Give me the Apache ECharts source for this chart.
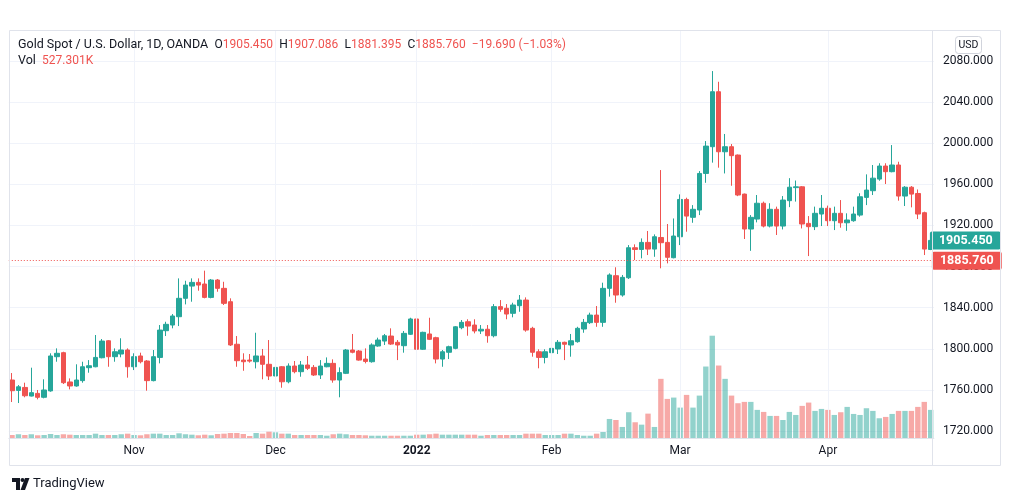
<!DOCTYPE html>
<html>
<head>
<meta charset="utf-8">
<script src="https://cdn.jsdelivr.net/npm/echarts@6/dist/echarts.min.js"></script>
<style>
html,body{margin:0;padding:0;background:#fff;}
#chart{width:1012px;height:501px;}
</style>
</head>
<body>
<div id="chart"></div>
<script>
// ---- data ----
const dates = [
'2021-10-05','2021-10-06','2021-10-07','2021-10-08','2021-10-11','2021-10-12','2021-10-13','2021-10-14','2021-10-15','2021-10-18','2021-10-19','2021-10-20','2021-10-21','2021-10-22','2021-10-25','2021-10-26','2021-10-27','2021-10-28','2021-10-29',
'2021-11-01','2021-11-02','2021-11-03','2021-11-04','2021-11-05','2021-11-08','2021-11-09','2021-11-10','2021-11-11','2021-11-12','2021-11-15','2021-11-16','2021-11-17','2021-11-18','2021-11-19','2021-11-22','2021-11-23','2021-11-24','2021-11-25','2021-11-26','2021-11-29','2021-11-30',
'2021-12-01','2021-12-02','2021-12-03','2021-12-06','2021-12-07','2021-12-08','2021-12-09','2021-12-10','2021-12-13','2021-12-14','2021-12-15','2021-12-16','2021-12-17','2021-12-20','2021-12-21','2021-12-22','2021-12-23','2021-12-27','2021-12-28','2021-12-29','2021-12-30','2021-12-31',
'2022-01-03','2022-01-04','2022-01-05','2022-01-06','2022-01-07','2022-01-10','2022-01-11','2022-01-12','2022-01-13','2022-01-14','2022-01-17','2022-01-18','2022-01-19','2022-01-20','2022-01-21','2022-01-24','2022-01-25','2022-01-26','2022-01-27','2022-01-28','2022-01-31',
'2022-02-01','2022-02-02','2022-02-03','2022-02-04','2022-02-07','2022-02-08','2022-02-09','2022-02-10','2022-02-11','2022-02-14','2022-02-15','2022-02-16','2022-02-17','2022-02-18','2022-02-21','2022-02-22','2022-02-23','2022-02-24','2022-02-25','2022-02-28',
'2022-03-01','2022-03-02','2022-03-03','2022-03-04','2022-03-07','2022-03-08','2022-03-09','2022-03-10','2022-03-11','2022-03-14','2022-03-15','2022-03-16','2022-03-17','2022-03-18','2022-03-21','2022-03-22','2022-03-23','2022-03-24','2022-03-25','2022-03-28','2022-03-29','2022-03-30','2022-03-31',
'2022-04-01','2022-04-04','2022-04-05','2022-04-06','2022-04-07','2022-04-08','2022-04-11','2022-04-12','2022-04-13','2022-04-14','2022-04-15','2022-04-18','2022-04-19','2022-04-20','2022-04-21','2022-04-22','2022-04-25'
];

const opens = [
1769.6,1759.5,1762.4,1754.0,1756.6,1752.8,1759.0,1792.3,1796.2,1767.7,1763.8,1769.0,1781.6,1782.5,1791.3,1807.8,1792.3,1794.9,1798.8,
1782.5,1793.0,1788.1,1769.0,1791.6,1817.6,1823.1,1831.2,1849.1,1861.0,1864.6,1863.0,1850.0,1866.9,1858.8,1845.8,1804.4,1789.0,1789.0,1787.4,1793.0,1784.9,
1773.5,1782.5,1767.9,1783.2,1777.7,1784.2,1781.9,1774.5,1782.5,1785.8,1769.6,1776.1,1798.8,1797.8,1790.0,1787.4,1802.7,1807.5,1812.4,1806.3,1803.0,1814.1,
1829.0,1799.5,1814.4,1810.8,1790.0,1796.6,1800.4,1820.5,1826.3,1823.1,1817.3,1819.0,1812.7,1841.0,1839.4,1834.5,1841.9,1847.4,1819.9,1797.1,1791.6,
1796.2,1799.8,1806.3,1803.7,1806.9,1819.2,1825.4,1832.8,1825.7,1858.8,1871.1,1852.3,1869.1,1898.3,1896.6,1903.5,1897.0,1908.3,1903.5,1888.6,
1909.0,1945.3,1927.9,1935.0,1970.6,1996.6,2050.1,1991.7,1996.6,1988.5,1950.5,1916.5,1926.2,1941.6,1919.4,1935.7,1919.4,1944.1,1956.8,1957.6,1922.0,1918.8,1931.1,
1936.7,1924.6,1931.8,1922.6,1924.6,1930.1,1947.3,1953.8,1965.1,1977.8,1972.3,1978.8,1948.6,1957.2,1951.1,1932.4,1896.6
];
const closes = [
1759.2,1763.0,1754.3,1757.3,1752.8,1759.9,1793.0,1795.6,1767.0,1763.8,1769.6,1782.5,1783.5,1791.6,1807.5,1792.3,1797.1,1798.8,1782.5,
1792.3,1787.4,1769.0,1792.3,1818.2,1823.8,1831.9,1849.1,1862.0,1864.6,1862.0,1850.0,1866.9,1858.8,1844.2,1803.7,1788.4,1787.4,1788.0,1793.0,1784.9,1773.5,
1781.9,1767.9,1783.2,1777.7,1784.2,1781.0,1774.5,1783.2,1785.8,1769.6,1776.8,1798.8,1796.6,1789.0,1787.7,1803.7,1808.5,1812.7,1804.6,1803.7,1815.0,1829.0,
1799.5,1816.0,1809.2,1790.0,1797.1,1802.0,1821.4,1825.7,1822.1,1817.3,1819.0,1812.7,1841.0,1838.4,1833.8,1842.6,1847.4,1818.2,1796.6,1791.6,1797.1,
1800.4,1806.3,1804.4,1807.8,1819.9,1825.7,1832.8,1825.7,1858.8,1871.8,1852.3,1869.5,1898.3,1896.6,1903.5,1897.0,1909.0,1903.2,1889.0,1909.7,
1945.3,1929.1,1935.7,1970.6,1997.2,2050.1,1991.7,1996.6,1987.9,1949.6,1916.5,1927.9,1941.6,1919.4,1935.7,1919.4,1944.7,1957.2,1957.6,1921.4,1918.8,1931.8,1936.7,
1924.6,1931.8,1922.6,1925.3,1931.1,1947.9,1954.4,1966.0,1977.8,1972.3,1978.8,1948.6,1957.2,1950.5,1931.1,1897.0,1905.45
];
const lows = [
1748.2,1747.2,1752.8,1753.6,1750.8,1751.8,1758.2,1787.4,1765.7,1760.5,1763.1,1767.0,1776.7,1782.0,1790.7,1782.5,1787.4,1791.7,1771.9,
1779.3,1785.8,1759.2,1768.3,1785.8,1812.4,1819.9,1822.1,1843.2,1845.8,1856.5,1849.1,1849.1,1855.5,1842.6,1802.7,1782.5,1778.6,1786.5,1780.9,1770.3,1769.6,
1771.2,1762.1,1766.4,1776.1,1772.8,1779.3,1773.5,1770.6,1782.0,1767.0,1752.8,1775.4,1795.6,1788.4,1785.8,1786.5,1802.0,1803.7,1803.7,1789.0,1796.2,1813.4,
1797.8,1798.8,1808.5,1785.8,1782.5,1790.0,1799.5,1819.0,1812.7,1815.0,1814.4,1805.9,1811.1,1836.0,1828.7,1830.6,1836.0,1816.6,1792.3,1781.0,1785.8,
1795.6,1794.9,1789.0,1792.3,1805.9,1815.6,1824.1,1821.4,1821.4,1850.7,1844.8,1850.7,1867.9,1886.3,1888.0,1891.2,1889.5,1878.3,1883.1,1888.0,
1900.9,1913.9,1922.6,1930.1,1961.5,1981.1,1976.2,1970.6,1958.6,1948.5,1906.8,1895.3,1923.0,1918.1,1918.1,1910.7,1916.1,1937.8,1943.2,1917.1,1890.2,1915.5,1919.4,
1919.4,1915.5,1917.8,1914.8,1923.6,1928.5,1939.8,1949.6,1963.5,1960.3,1971.7,1944.1,1938.9,1937.6,1926.2,1891.2,1896.0
];
const highs = [
1776.4,1764.7,1767.0,1781.6,1759.9,1770.3,1795.6,1800.4,1797.1,1771.2,1784.9,1787.4,1789.0,1813.4,1809.5,1808.5,1800.4,1810.2,1800.4,
1795.6,1796.2,1789.0,1798.8,1823.1,1826.3,1833.8,1868.5,1866.2,1868.5,1868.5,1876.0,1867.9,1867.9,1865.2,1849.1,1812.4,1795.6,1794.9,1815.6,1799.8,1808.5,
1794.9,1783.2,1785.8,1788.1,1788.1,1793.0,1784.2,1789.0,1791.6,1789.7,1781.9,1799.8,1814.4,1798.8,1800.4,1805.3,1810.8,1814.4,1819.9,1808.5,1817.3,1830.2,
1832.2,1816.6,1830.2,1811.7,1798.8,1803.0,1822.1,1828.0,1828.7,1828.7,1823.1,1823.1,1843.5,1847.4,1843.5,1844.8,1852.3,1850.0,1821.4,1799.5,1799.5,
1808.5,1808.5,1806.9,1814.4,1821.4,1829.0,1835.1,1841.6,1864.3,1873.4,1879.3,1871.8,1900.9,1901.6,1907.4,1914.6,1911.3,1973.9,1921.4,1926.8,
1950.2,1947.0,1939.8,1972.9,2002.1,2070.2,2059.8,2009.0,1999.2,1989.0,1951.0,1930.1,1949.6,1943.2,1941.6,1938.3,1948.6,1966.0,1963.7,1958.3,1929.1,1938.3,1949.6,
1939.3,1938.3,1944.7,1931.8,1938.3,1951.3,1969.7,1978.8,1980.5,1980.5,1998.2,1982.0,1958.3,1958.3,1955.0,1933.4,1910.7
];
// volume in thousands
const volumes = [
56,70,56,70,51,56,75,56,70,62,56,56,56,81,56,56,56,70,81,
56,51,70,81,81,56,56,88,70,62,51,62,51,75,81,94,94,75,38,94,81,118,
107,81,81,56,56,56,56,56,43,70,81,70,56,56,51,43,43,43,43,43,43,43,
62,62,70,81,62,62,62,62,62,62,43,56,56,56,56,56,56,81,81,81,
56,56,56,81,81,56,43,43,81,113,357,338,207,483,295,250,457,207,1109,733,
758,570,808,570,795,1340,1918,1359,1109,795,652,677,677,527,489,414,414,338,489,432,602,664,508,545,
527,432,483,583,451,432,558,508,370,395,451,508,508,508,583,677,527
];

const timeTickDates = ['2021-11-01','2021-12-01','2022-01-03','2022-02-01','2022-03-01','2022-04-01'];
const timeTickLabels = ['Nov','Dec','2022','Feb','Mar','Apr'];
const priceMin = 1720, priceMax = 2080, priceStep = 40;

const lastPrice = 1905.450;
const prevClose = 1885.760;
const legendOpen = 1905.450, legendHigh = 1907.086, legendLow = 1881.395, legendClose = 1885.760;
const legendChange = '\u221219.690', legendChangePct = '\u22121.03%';
const legendVol = '527.301K';

// ---- chart ----
const UP = '#26a69a', DOWN = '#ef5350';
const FONT = 'Roboto, "Noto Sans", sans-serif';
const GL = 8.8, GR = 1012 - 933.9;

const candleData = dates.map((d, i) => [opens[i], closes[i], lows[i], highs[i]]);
const volData = volumes.map((v, i) => ({
  value: v,
  itemStyle: { color: closes[i] >= opens[i] ? 'rgba(38,166,154,0.5)' : 'rgba(239,83,80,0.5)' }
}));
const tickMap = {};
timeTickDates.forEach((d, i) => { tickMap[d] = timeTickLabels[i]; });

const fmt = v => v.toFixed(3);

const richTitle = {
  d: { color: '#131722', fontSize: 12.5, fontFamily: FONT, fontWeight: 'normal' },
  k: { color: '#131722', fontSize: 12, fontFamily: FONT, fontWeight: 'normal' },
  r: { color: '#ef5350', fontSize: 12, fontFamily: FONT, fontWeight: 'normal' }
};

const chart = echarts.init(document.getElementById('chart'), null, { renderer: 'canvas' });
chart.setOption({
  animation: false,
  backgroundColor: '#ffffff',
  textStyle: { fontFamily: FONT },
  title: [{
    left: 18, top: 38, padding: 0,
    text: '{d|Gold Spot / U.S. Dollar, 1D, OANDA}  {k|O}{r|' + fmt(legendOpen) + '}  {k|H}{r|' + fmt(legendHigh) +
      '}  {k|L}{r|' + fmt(legendLow) + '}  {k|C}{r|' + fmt(legendClose) + '}  {r|' + legendChange + ' (' + legendChangePct + ')}',
    textStyle: { fontWeight: 'normal', fontSize: 12.5, rich: richTitle }
  }, {
    left: 18, top: 54, padding: 0,
    text: '{d|Vol}  {r|' + legendVol + '}',
    textStyle: { fontWeight: 'normal', fontSize: 12.5, rich: richTitle }
  }],
  grid: [
    { left: GL, right: GR, top: 61, height: 370 },
    { left: GL, right: GR, top: 310, height: 128 },
    { left: GL, right: GR, top: 30, height: 408 }
  ],
  xAxis: [
    { type: 'category', gridIndex: 0, data: dates, boundaryGap: true, show: false },
    { type: 'category', gridIndex: 1, data: dates, boundaryGap: true, show: false },
    {
      type: 'category', gridIndex: 2, data: dates, boundaryGap: true,
      axisLine: { show: true, lineStyle: { color: '#e0e3eb' } },
      axisTick: { show: false },
      splitLine: { show: false },
      axisLabel: {
        interval: (idx, val) => tickMap[val] !== undefined,
        formatter: val => (tickMap[val] === '2022' ? '{b|2022}' : (tickMap[val] || '')),
        color: '#131722', fontSize: 12, fontFamily: FONT, margin: 7,
        rich: { b: { fontWeight: 'bold', fontSize: 12, color: '#131722', fontFamily: FONT } }
      }
    }
  ],
  yAxis: [
    {
      type: 'value', gridIndex: 0, position: 'right', min: priceMin, max: priceMax, interval: priceStep,
      axisLine: { show: false }, axisTick: { show: false },
      axisLabel: { color: '#131722', fontSize: 12, fontFamily: FONT, margin: 9, formatter: v => v.toFixed(3) },
      splitLine: { show: true, lineStyle: { color: '#f0f3fa', width: 1 } }
    },
    { type: 'value', gridIndex: 1, min: 0, max: 2400, show: false },
    { type: 'value', gridIndex: 2, min: 0, max: 1, show: false }
  ],
  series: [
    {
      type: 'line', xAxisIndex: 2, yAxisIndex: 2, data: [], z: 1, silent: true,
      markLine: {
        silent: true, symbol: 'none', label: { show: false },
        lineStyle: { color: '#f0f3fa', type: 'solid', width: 1 },
        data: timeTickDates.map(d => ({ xAxis: d }))
      }
    },
    {
      type: 'bar', xAxisIndex: 1, yAxisIndex: 1, data: volData, barWidth: '84%', z: 2, silent: true
    },
    {
      type: 'candlestick', xAxisIndex: 0, yAxisIndex: 0, data: candleData, z: 3,
      barWidth: 5,
      itemStyle: { color: UP, color0: DOWN, borderColor: UP, borderColor0: DOWN, borderWidth: 1 },
      markLine: {
        silent: true, symbol: 'none', z: 10,
        data: [
          {
            yAxis: prevClose,
            lineStyle: { color: DOWN, type: [1, 2], width: 1 },
            label: {
              show: true, position: 'end', distance: -2, formatter: fmt(prevClose),
              color: '#ffffff', backgroundColor: DOWN, padding: [3, 8, 2, 8], borderRadius: 2,
              fontSize: 12.5, fontFamily: FONT, fontWeight: 'bold'
            }
          },
          {
            yAxis: lastPrice,
            lineStyle: { color: 'rgba(38,166,154,0)', width: 0 },
            label: {
              show: true, position: 'end', distance: -4, formatter: fmt(lastPrice),
              color: '#ffffff', backgroundColor: UP, padding: [3, 8, 2, 9], borderRadius: 2,
              fontSize: 12.5, fontFamily: FONT, fontWeight: 'bold'
            }
          }
        ]
      }
    }
  ],
  graphic: [
    { type: 'rect', shape: { x: 9.5, y: 30.5, width: 991, height: 435 }, style: { fill: 'none', stroke: '#e0e3eb', lineWidth: 1 }, z: 100, silent: true },
    { type: 'line', shape: { x1: 932.5, y1: 30, x2: 932.5, y2: 466 }, style: { stroke: '#e0e3eb', lineWidth: 1 }, z: 100, silent: true },
    { type: 'rect', shape: { x: 955.5, y: 36.5, width: 26, height: 17, r: 3 }, style: { fill: '#fff', stroke: '#d1d4dc', lineWidth: 1 }, z: 100 },
    { type: 'text', x: 968.5, y: 45, style: { text: 'USD', fill: '#131722', font: '10.5px ' + FONT, align: 'center', verticalAlign: 'middle' }, z: 101 },
    // TradingView logo
    { type: 'polygon', shape: { points: [[12, 478], [20, 478], [20, 490], [16, 490], [16, 482], [12, 482]] }, style: { fill: '#131722' }, z: 100 },
    { type: 'circle', shape: { cx: 22.5, cy: 480, r: 2 }, style: { fill: '#131722' }, z: 100 },
    { type: 'polygon', shape: { points: [[25, 478], [29.5, 478], [25, 490], [20.5, 490]] }, style: { fill: '#131722' }, z: 100 },
    { type: 'text', x: 33, y: 484, style: { text: 'TradingView', fill: '#131722', font: '13px ' + FONT, verticalAlign: 'middle' }, z: 100 }
  ]
});
</script>
</body>
</html>
